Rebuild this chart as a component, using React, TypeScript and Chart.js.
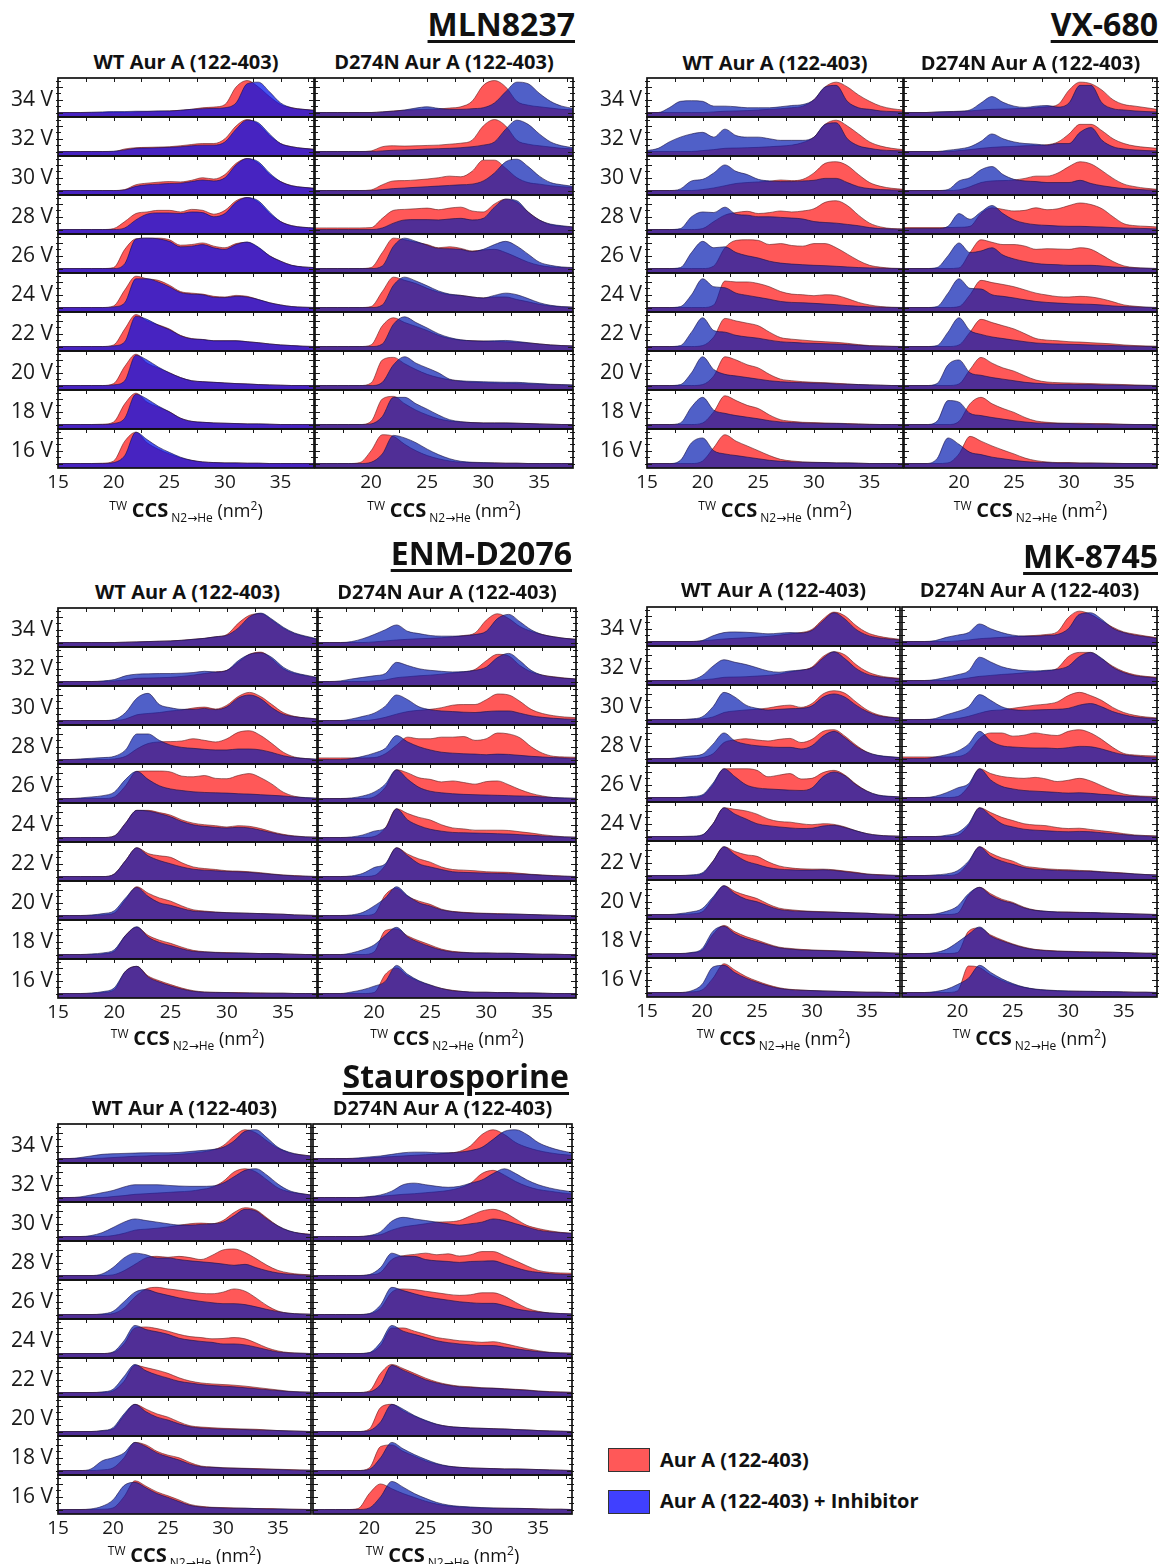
import React, { useEffect, useRef } from 'react';
import { Chart, registerables } from 'chart.js';

Chart.register(...registerables);

// ---------------- data ----------------
const CCS_NM2 = [15, 16, 17, 18, 19, 20, 21, 22, 23, 24, 25, 26, 27, 28, 29, 30, 31, 32, 33, 34, 35, 36, 37, 38];
const VOLTAGES = ['34 V', '32 V', '30 V', '28 V', '26 V', '24 V', '22 V', '20 V', '18 V', '16 V'];
const COMPOUNDS = ['MLN8237', 'VX-680', 'ENM-D2076', 'MK-8745', 'Staurosporine'];
const PANEL_TITLES = ['WT Aur A (122-403)', 'D274N Aur A (122-403)'];
const LEGEND_LABELS = ['Aur A (122-403)', 'Aur A (122-403) + Inhibitor'];
const X_TICKS_WT = [15, 20, 25, 30, 35];
const X_TICKS_D274N = [20, 25, 30, 35];

// rows: 34 V ... 16 V ; columns: CCS_NM2
const MLN_WT_RED = [
  [0,0,0,0,0, 0,0,0.2,0.3,0.4, 0.5,0.7,1,1.5,1.7, 2.5,8,10,8,5, 2.5,1.5,1,0.7],
  [0,0,0,0,0, 0,0.8,1.2,1.3,1.4, 1.5,1.8,2.2,2.5,2.5, 4,8,10,8.5,5, 2.5,1.5,1,0.7],
  [0,0,0,0,0, 0,0.3,1.8,2.3,2.6, 2.8,2.7,3.2,4,3.6, 5,8.5,10,8.5,5, 2.8,1.5,1,0.7],
  [0,0,0,0,0, 0.3,2.5,5,5.5,6, 6,5.5,6.3,6,4.8, 6,9,10,8.5,5, 2.5,1.2,0.7,0.5],
  [0,0,0,0,0, 0.3,6,9.3,9.5,9.5, 9,7.3,7.5,8,7, 6.5,7.8,8.2,6.5,4, 2.3,1,0.5,0.3],
  [0,0,0,0,0, 0.5,5.5,9.8,9,8.5, 7,5,4.5,4.2,3.5, 3.3,3.8,3.5,2.5,1.5, 0.8,0.3,0.1,0],
  [0,0,0,0,0, 0.5,5.5,10,8,6.8, 5.5,3.5,2.5,2.2,1.8, 1.8,1.8,1.5,1.2,0.8, 0.5,0.3,0.1,0],
  [0,0,0,0,0, 0.6,6,9.8,7,5.5, 4,2.5,1.5,1.2,1, 0.8,0.6,0.5,0.3,0.2, 0.1,0,0,0],
  [0,0,0,0,0.1, 0.8,6.5,9.8,7,5.5, 4,2,1,0.7,0.5, 0.4,0.3,0.2,0.2,0.1, 0,0,0,0],
  [0,0,0,0,0.1, 0.8,7,9.8,6.5,4.5, 3,1.8,1,0.5,0.3, 0.2,0.2,0.1,0.1,0, 0,0,0,0],
];
const MLN_WT_BLUE = [
  [0,0,0,0.1,0.2, 0.3,0.3,0.4,0.4,0.5, 0.5,0.7,1,1.2,1.3, 1.5,3,9,9.5,6.5, 3,1.5,1,0.7],
  [0,0,0,0,0, 0.1,0.5,1,1.1,1.2, 1.3,1.5,1.8,2,2, 3,7,9.8,9,5.5, 2.5,1.5,1,0.7],
  [0,0,0,0,0, 0,0.2,1.3,1.8,2, 2.2,2.3,2.8,3.3,3, 4,8,10,9,5.5, 2.8,1.5,1,0.7],
  [0,0,0,0,0, 0,0.5,3,4.8,5.2, 5.2,5,5.5,5.3,4, 5,8.5,10,9,5.5, 2.5,1.2,0.7,0.5],
  [0,0,0,0,0, 0,1.5,9.2,9.5,9.3, 8.5,6.8,7,7.5,6.5, 6,7.5,8.3,6.7,4, 2.3,1,0.5,0.3],
  [0,0,0,0,0, 0.2,1.5,9,9,8, 6.5,4.7,4.2,4,3.2, 3.1,3.5,3.3,2.5,1.5, 0.8,0.3,0.1,0],
  [0,0,0,0,0, 0.2,1.5,9.5,8.5,6.7, 5.3,3.4,2.4,2.2,1.8, 1.8,1.8,1.5,1.2,0.8, 0.5,0.3,0.1,0],
  [0,0,0,0,0, 0.2,1.5,9.5,8,5.8, 4,2.5,1.5,1.2,1, 0.8,0.6,0.5,0.3,0.2, 0.1,0,0,0],
  [0,0,0,0,0, 0.3,2,9.5,8,5.8, 4,2,1,0.7,0.5, 0.4,0.3,0.2,0.2,0.1, 0,0,0,0],
  [0,0,0,0,0, 0.3,2.5,9.8,7.5,5.2, 3.5,2,1,0.5,0.3, 0.2,0.2,0.1,0.1,0, 0,0,0,0],
];
const MLN_D274N_RED = [
  [0,0,0,0,0, 0,0.2,0.5,0.7,0.9, 1,1.1,1.4,1.8,3.5, 8.5,10,8,3.5,2.3, 1.8,1.4,1,0.8],
  [0,0,0,0,0, 0.2,1.5,1.8,1.7,1.8, 1.9,2,2.3,2.6,3.5, 8,10,8,3.5,2.3, 1.8,1.4,1,0.8],
  [0,0,0,0,0, 0.2,1.8,3,3.1,3.3, 3.6,4,4.5,4.3,6, 9.5,9.5,7,4,2.5, 2,1.5,1.2,1],
  [0.5,0.5,0.5,0.5,0.5, 0.6,3.5,6,6.3,6.5, 6.7,6.2,6.7,7,5.8, 5.5,8,9.5,8.5,5.5, 3,1.5,1,0.8],
  [0,0,0,0,0, 0.3,5,9.5,9,8.2, 7.5,6.5,6.8,6.3,5.5, 5.8,6,5,3.5,2, 1,0.5,0.3,0.2],
  [0,0,0,0,0, 0.3,5,9.5,8.5,7.5, 6,4.8,4,3.8,3.3, 3,3.3,3.3,2.5,1.8, 1,0.5,0.2,0.1],
  [0,0,0,0,0, 0.5,6.5,9,7.5,6.3, 5,3.5,2.5,2,1.8, 1.7,1.6,1.5,1.3,1.1, 0.8,0.5,0.3,0.2],
  [0,0,0,0,0, 0.8,8,8.8,6.8,5, 3.5,2.5,1.8,1.3,1, 0.9,0.8,0.7,0.6,0.5, 0.4,0.3,0.2,0.1],
  [0,0,0,0,0, 1,8,8.8,6.5,4.5, 3,1.8,1.1,0.8,0.6, 0.5,0.5,0.5,0.4,0.3, 0.2,0.1,0,0],
  [0,0,0,0,0.3, 4,9,8.5,6,4, 2.5,1.5,0.8,0.4,0.3, 0.2,0.2,0.1,0.1,0, 0,0,0,0],
];
const MLN_D274N_BLUE = [
  [0,0,0,0,0, 0,0.2,0.4,0.8,1.4, 1.8,1.3,1,1,1.2, 1.5,3,6.5,9.5,9, 6,3.5,2,1.3],
  [0,0,0,0,0, 0,0.2,0.4,0.5,0.6, 0.8,0.9,1,1.2,1.5, 2,3,7,9.8,8.5, 5.5,3,1.8,1.2],
  [0,0,0,0,0, 0,0.3,0.6,0.8,1, 1.2,1.4,1.6,1.8,2, 3,5.5,9,9.8,7.5, 4.5,2.5,1.8,1.3],
  [0,0,0,0,0, 0,0.5,2,3,3.1, 3.1,3,3.3,3.5,3, 3.5,7,9.5,9,5.5, 3,1.7,1.2,0.8],
  [0,0,0,0,0, 0,0.8,7,9.5,8.5, 7.3,6.3,6.2,6,5.3, 6,7.5,8.5,7,4.5, 2,1,0.5,0.3],
  [0,0,0,0,0, 0,0.8,7,9.5,8.3, 6.8,5.2,4.2,3.8,3.3, 3,3.8,4.5,4,2.8, 1.5,0.7,0.3,0.1],
  [0,0,0,0,0, 0,0.8,7,9.3,7.5, 5.8,4,2.8,2.1,1.8, 1.7,1.8,1.9,1.6,1.2, 0.8,0.5,0.3,0.2],
  [0,0,0,0,0, 0,1,6.5,9,7, 5.5,4,2,1.5,1.3, 1.2,1.1,1,1,0.8, 0.6,0.4,0.3,0.2],
  [0,0,0,0,0, 0.2,2.5,8.5,8.5,6.5, 4.8,3,1.5,0.9,0.6, 0.5,0.5,0.5,0.4,0.3, 0.2,0.1,0,0],
  [0,0,0,0,0, 0.4,3,8.8,8,6.5, 4.5,2.8,1.5,0.7,0.4, 0.3,0.2,0.1,0.1,0, 0,0,0,0],
];

const VX_WT_RED = [
  [0,0,0,0,0, 0,0.2,0.4,0.5,0.6, 0.8,1,1.2,1.5,2, 4,8,9.5,8,5.5, 3.5,2,1.2,0.8],
  [0,0,0,0,0, 0.3,0.6,1,1.1,1.2, 1.3,1.5,1.7,2,2.8, 4.5,8.5,9.8,8,5.5, 3,1.7,1,0.6],
  [0,0,0,0,0, 0.3,0.8,1.5,2.2,2.5, 2.7,2.9,3.3,3.1,3.5, 5.5,8.5,9,7.8,5, 2.5,1.3,0.7,0.4],
  [0,0,0,0,0, 0.3,2.5,4.5,5.3,5.7, 5,5.3,5.8,5.5,5.8, 6.5,8.5,9,7.5,4.5, 2,0.8,0.3,0.2],
  [0,0,0,0,0, 0,0.8,6.5,8.8,9, 8.8,7.5,7.8,7.2,7, 7.8,7.8,6.5,4.5,2.5, 1,0.4,0.1,0],
  [0,0,0,0,0, 0,0.8,8.3,8,8, 7.5,6.5,5,4.2,4, 3.7,4,3.8,2.8,1.6, 0.8,0.3,0.1,0],
  [0,0,0,0,0, 0.3,3,8.8,8,7.3, 6.5,4.5,2.8,2.3,2, 1.7,1.5,1.3,1,0.6, 0.3,0.2,0.1,0],
  [0,0,0,0,0, 0.3,3,9,8,6.5, 5.5,3.5,2,1.5,1.2, 1,0.9,0.7,0.5,0.3, 0.2,0.1,0,0],
  [0,0,0,0,0, 0.5,4,9,7.5,6, 5,3,1.5,1,0.7, 0.6,0.5,0.4,0.3,0.2, 0.1,0,0,0],
  [0,0,0,0,0, 0.8,5,9,7,5.5, 4,2.5,1.3,0.8,0.5, 0.4,0.3,0.2,0.2,0.1, 0,0,0,0],
];
const VX_WT_BLUE = [
  [0,0,1.5,3.5,3.7, 3.5,2,2,1.8,1.5, 1.5,1.5,1.8,2.2,2.5, 4,8,8.5,3.5,1.5, 1,0.5,0.3,0.2],
  [0.3,1,3,4.5,5.5, 6,4.5,7,5,4.5, 4.5,4,3.5,3.5,3.5, 4.5,8.5,9,4,1.8, 1,0.5,0.3,0.2],
  [0,0,0,0.5,3, 3.5,5.5,8,6,5, 3.5,3,2.8,2.8,3, 3.2,3.8,3.8,2.5,1.2, 0.6,0.3,0.2,0.1],
  [0,0,0,0.3,4, 5.5,5.3,7,4.8,4.5, 4,4,3.8,3.6,3.3, 2.5,2.2,2,1.6,1.2, 0.6,0.3,0.2,0.1],
  [0,0,0,0.3,5, 8.5,6.5,6.8,5,4, 3.3,2.3,1.7,1.4,1.2, 1,0.9,0.7,0.5,0.3, 0.2,0.1,0,0],
  [0,0,0,0.3,4, 9,6.5,6.2,4.5,3.8, 3.2,2.6,1.9,1.6,1.5, 1.3,1.1,0.9,0.6,0.4, 0.2,0.1,0,0],
  [0,0,0,0.3,4.5, 9,5,4.5,3.5,3, 2.6,2,1.5,1.3,1.1, 1,0.9,0.8,0.6,0.4, 0.2,0.1,0,0],
  [0,0,0,0.3,4, 9,5,3.5,3,2.5, 2,1.5,1.2,1,0.9, 0.8,0.7,0.5,0.4,0.3, 0.2,0.1,0,0],
  [0,0,0,0.5,5.5, 8.5,4.5,3.5,2.8,2.3, 1.8,1.2,0.8,0.6,0.5, 0.4,0.3,0.3,0.2,0.1, 0,0,0,0],
  [0,0,0,1,6.5, 8,4,3,2.5,2, 1.5,1,0.7,0.5,0.4, 0.3,0.3,0.2,0.2,0.1, 0,0,0,0],
];
const VX_D274N_RED = [
  [0,0,0,0.1,0.2, 0.3,0.5,0.8,1,1.1, 1.2,1.3,1.5,1.8,2.5, 7,9.5,9,7,4, 2.5,2,1.5,1],
  [0,0,0,0,0, 0.3,0.6,1,1.3,1.5, 1.6,1.8,1.9,2.1,3, 5.5,8.5,8.5,6.5,4, 2.5,1.7,1.3,1],
  [0,0,0,0,0, 0.2,1.2,2.5,3,3.1, 3.3,3.8,4.5,4.5,5.5, 7.5,9,8.3,6.2,3.8, 2,1.2,0.7,0.4],
  [0.6,0.6,0.6,0.6,0.6, 0.7,1,5,6.8,6.3, 5.8,6,6.8,6.2,6.5, 7.5,8.3,7.8,6.5,4, 1.8,1.2,1,0.8],
  [0,0,0,0,0, 0.2,5,9,8.2,7.5, 7.5,7,6,6.2,6.1, 6,6.5,6,4.2,2.2, 0.8,0.3,0.1,0],
  [0,0,0,0,0, 0.3,4,8.5,7.8,7.2, 6.5,5.5,4.5,3.9,3.4, 3.3,3.5,3.3,2.7,1.8, 0.8,0.4,0.1,0],
  [0,0,0,0,0, 0.5,4.5,8.5,7.5,6.5, 5.5,4,2.5,2,1.8, 1.5,1.4,1.2,1,0.8, 0.5,0.3,0.2,0.1],
  [0,0,0,0,0, 0.5,5,8.8,7,5.5, 4.5,3,1.7,1.1,0.9, 0.8,0.7,0.6,0.5,0.4, 0.3,0.2,0.1,0],
  [0,0,0,0,0, 1,6.5,8.5,6.5,5, 3.8,2.2,1.1,0.7,0.5, 0.4,0.4,0.3,0.3,0.2, 0.1,0,0,0],
  [0,0,0,0,0.2, 3,8.5,7,5.5,4.2, 3,1.7,0.9,0.5,0.3, 0.3,0.2,0.2,0.1,0.1, 0,0,0,0],
];
const VX_D274N_BLUE = [
  [0,0,0,0.2,0.3, 0.4,0.8,3,5,3.2, 2,1.6,2,2.2,1.7, 3,8.5,8.5,3,1.2, 0.8,0.5,0.3,0.2],
  [0,0,0,0,0.4, 0.8,1.5,3.2,5.5,4, 3,2.5,2.3,2,2.5, 2.5,6,7.5,3.5,1.5, 0.8,0.5,0.3,0.2],
  [0,0,0,0,0.3, 3,4,6.5,7.5,5, 3.5,3,2.8,2.5,2.5, 2.5,3.2,2.2,1.5,1, 0.6,0.4,0.2,0.1],
  [0.3,0.3,0.3,0.3,1, 5,3.2,5.5,7.5,5, 3,2,1.5,1.3,1.1, 1,1,0.9,0.8,0.6, 0.5,0.4,0.3,0.2],
  [0,0,0,0.3,4, 8,5,5.5,6.5,4.2, 3,2.2,1.6,1.3,1.2, 1,1,1,0.8,0.5, 0.3,0.2,0.1,0],
  [0,0,0,0.3,4.5, 9,6,5.8,4,3.5, 3,2.4,1.9,1.6,1.4, 1.2,1.1,1,0.8,0.5, 0.3,0.2,0.1,0],
  [0,0,0,0.3,4.5, 9,5,3.8,3,2.5, 2,1.5,1.1,0.9,0.8, 0.7,0.6,0.5,0.4,0.3, 0.2,0.1,0,0],
  [0,0,0,0.6,6.5, 8,4,3.2,2.5,2, 1.5,1,0.7,0.5,0.4, 0.4,0.3,0.3,0.2,0.2, 0.1,0,0,0],
  [0,0,0,1,7.5, 7,3.5,2.8,2.2,1.7, 1.2,0.8,0.5,0.4,0.3, 0.3,0.2,0.2,0.1,0.1, 0,0,0,0],
  [0,0,0,1.5,8, 6,3.5,2.8,2,1.5, 1,0.6,0.4,0.3,0.2, 0.2,0.1,0.1,0.1,0, 0,0,0,0],
];

const ENM_WT_RED = [
  [0,0,0,0,0, 0,0.1,0.2,0.3,0.4, 0.5,0.7,1,1.3,1.8, 2.5,6,8.5,9,7, 4.5,2.8,1.8,1],
  [0,0,0,0,0, 0.2,0.5,1,1.1,1.2, 1.3,1.6,2,2.5,3, 3.5,6,8.5,9.2,7, 4,2.5,1.8,1.2],
  [0,0,0,0,0, 0,0.5,1.8,2.2,2.5, 3,3.3,3.9,4.2,3.6, 4.8,7.5,8.8,7.5,5, 2.5,1.3,0.8,0.5],
  [0,0,0,0,0, 0.2,1,3.3,5,5.5, 5.6,5.8,6.5,6,5.5, 6.5,8.5,9,7.5,5, 2.3,0.8,0.3,0.1],
  [0,0,0,0,0, 0.5,4,8.5,8.6,8.6, 8.3,7,6.8,7.2,6.3, 6.2,7.2,7.8,6.5,4.5, 2,0.7,0.2,0.1],
  [0,0,0,0,0, 0.5,4.5,8.5,8.5,7.8, 7,5.5,4.5,4,3.7, 3.3,3.7,3.5,2.8,1.8, 1,0.5,0.2,0.1],
  [0,0,0,0,0, 0.8,5,9,7.2,6.5, 6,4.3,3,2.5,2.2, 1.8,1.7,1.5,1.2,0.8, 0.5,0.3,0.1,0],
  [0,0,0,0,0.2, 0.8,5,9,7,5.5, 4.5,3,1.8,1.4,1.1, 0.9,0.8,0.7,0.6,0.5, 0.4,0.2,0.1,0],
  [0,0,0,0,0.2, 1,6,8.5,6,4.5, 3.5,2.3,1.3,0.9,0.7, 0.6,0.5,0.4,0.3,0.3, 0.2,0.1,0,0],
  [0,0,0,0,0.3, 1.2,7,8.5,5.5,4, 2.8,1.7,0.9,0.5,0.4, 0.3,0.3,0.2,0.2,0.1, 0.1,0,0,0],
];
const ENM_WT_BLUE = [
  [0,0,0,0,0, 0,0.1,0.2,0.3,0.4, 0.5,0.7,1,1.3,1.8, 2.3,4.5,8,9.2,7.3, 4.8,3,2,1.2],
  [0,0,0,0,0.2, 0.6,1.8,2.3,2.4,2.5, 2.5,2.6,2.8,3.2,3, 3.5,6.5,8.5,9,7.5, 4.5,2.8,2,1.3],
  [0,0,0,0,0, 0.3,2.5,7,8.5,5, 4,3.5,3.5,3.8,3.4, 4.3,7,8,6.8,4, 2,1.2,0.8,0.5],
  [0,0,0.2,0.4,0.6, 1,3,8,8,6, 4.5,3.8,3.5,3.2,3, 3,3.3,3.3,3,2.2, 1.2,0.6,0.3,0.1],
  [0,0,0.2,0.5,0.9, 2,6,8.5,6,4, 3,2.5,2.1,1.9,1.8, 1.7,1.5,1.4,1.2,1, 0.8,0.5,0.3,0.1],
  [0,0,0,0,0, 0.5,4.5,8.5,8.3,7.5, 6.5,5,4,3.5,3.2, 3,3.2,3,2.3,1.5, 0.8,0.4,0.2,0.1],
  [0,0,0,0,0, 0.8,5,9,6.5,5, 4,3,2.3,2,1.8, 1.6,1.5,1.3,1,0.7, 0.4,0.2,0.1,0],
  [0,0,0,0.2,0.6, 1.5,5.5,8.8,6,4, 3.2,2.2,1.4,1.2,1, 0.9,0.8,0.7,0.6,0.5, 0.4,0.2,0.1,0],
  [0,0,0,0.2,0.5, 1.5,6,8.7,5.5,3.8, 2.8,1.8,1,0.8,0.6, 0.5,0.5,0.4,0.3,0.3, 0.2,0.1,0,0],
  [0,0,0,0.2,0.6, 1.8,7,8.5,5.2,3.6, 2.4,1.4,0.7,0.4,0.3, 0.3,0.2,0.2,0.1,0.1, 0.1,0,0,0],
];
const ENM_D274N_RED = [
  [0,0,0,0,0, 0.2,0.5,0.8,1,1.2, 1.3,1.5,1.8,2.2,3, 7,9,7.5,5,3.5, 2.5,1.8,1.3,1],
  [0,0,0,0,0, 0.2,0.5,1.2,1.5,1.8, 2,2.3,2.7,3,3.8, 6.5,8.5,8,5,3, 2,1.5,1.1,0.8],
  [0,0,0,0,0, 0.3,1,2,2.8,3.2, 3.5,4,4.8,5,5, 6.5,8.3,8,6,3.5, 2.2,1.5,1.1,0.9],
  [0.5,0.5,0.5,0.5,0.5, 0.6,1.8,4.5,7,6.5, 6.5,7,7,7.2,6, 6.5,8.3,8,6.8,4, 2,1,0.8,0.7],
  [0,0,0,0,0, 0.5,3.5,9,8,6.5, 6,5.2,5.5,5,4.5, 5.3,5.5,4.3,2.8,1.6, 0.8,0.3,0.1,0],
  [0,0,0,0,0, 0.3,3,9,7.5,6.3, 5.5,4,3,2.7,2.3, 2.3,2.3,2.2,1.8,1.4, 0.9,0.5,0.2,0.1],
  [0,0,0,0,0, 0.3,3.5,9,7,5.5, 4.5,3,2.2,2,1.8, 1.5,1.4,1.3,1,0.7, 0.5,0.3,0.1,0],
  [0,0,0,0,0, 0.5,6.5,8.5,6,4.5, 3.5,2,1.3,1,0.8, 0.7,0.6,0.5,0.4,0.3, 0.2,0.1,0,0],
  [0,0,0,0,0, 0.8,7.5,8,5.8,4.3, 3,1.7,1,0.7,0.5, 0.5,0.4,0.4,0.3,0.2, 0.1,0.1,0,0],
  [0,0,0,0,0, 0.3,6,8,5.5,3.8, 2.6,1.6,1,0.6,0.4, 0.4,0.3,0.3,0.2,0.2, 0.1,0,0,0],
];
const ENM_D274N_BLUE = [
  [0,0,0,0.3,1.2, 2.5,4,5.5,3.5,2.8, 2.2,2,2,2.1,2.5, 3.5,7.5,8.8,6.5,4, 2.5,1.8,1.3,1],
  [0,0,0.2,0.8,1.3, 1.8,2.5,6,5,4, 3.5,3.2,3,3.1,3.5, 4.5,7.5,8.8,6.5,3.5, 2,1.4,1,0.8],
  [0,0,0,0.5,1.3, 2.3,4.5,8,6.5,4.3, 3.4,3,2.8,2.6,2.5, 2.8,3,3,2.3,1.5, 1,0.7,0.5,0.4],
  [0,0,0,0.3,1, 2,3.5,7.5,5.5,4, 3,2.3,2,1.8,1.7, 1.5,1.7,1.6,1.3,1, 0.8,0.6,0.5,0.4],
  [0,0,0,0.2,0.8, 2,4.5,9,6,3.5, 2.3,1.8,1.5,1.3,1.2, 1.1,1,0.9,0.8,0.7, 0.5,0.3,0.2,0.1],
  [0,0,0,0.2,0.8, 2,3,9,5.5,3.7, 2.6,2,1.6,1.5,1.4, 1.3,1.2,1.1,0.9,0.7, 0.5,0.3,0.2,0.1],
  [0,0,0,0.2,1, 2.8,4,9,6.5,4, 3,2.2,1.5,1.3,1.2, 1.1,1,0.9,0.8,0.6, 0.4,0.2,0.1,0],
  [0,0,0,0.2,1, 3,5.5,9,6.2,4, 3,1.8,1.2,0.9,0.7, 0.6,0.5,0.5,0.4,0.3, 0.2,0.1,0,0],
  [0,0,0,0.5,1.5, 3,6,8.5,5.5,3.8, 2.5,1.4,0.8,0.6,0.5, 0.5,0.4,0.4,0.3,0.2, 0.1,0.1,0,0],
  [0,0,0,0.5,1.2, 2.3,3.8,8.8,6,4, 2.7,1.6,0.9,0.6,0.4, 0.4,0.3,0.3,0.2,0.2, 0.1,0,0,0],
];

const MK_WT_RED = [
  [0,0,0,0,0, 0.2,0.5,0.8,1,1.2, 1.4,1.6,2,2.4,2.8, 3.8,7,9.2,8,5, 2.8,1.7,1.1,0.7],
  [0,0,0,0,0, 0.2,0.5,1,1.1,1.2, 1.4,1.6,2,2.7,3.2, 4.2,7.5,9,8,5, 2.8,1.6,1,0.7],
  [0,0,0,0,0, 0.2,0.8,2.2,2.7,3, 3.2,3.6,4.2,4.5,3.8, 5,8,9,8.2,5.5, 3,1.5,0.8,0.5],
  [0,0,0,0,0, 0.3,1.5,5,5.8,6.2, 5.8,5.5,6,6.3,5, 6,8.5,9,7,4.2, 2,0.9,0.5,0.3],
  [0,0,0,0,0, 0.5,4,9,9,9, 8.5,6.5,7,7.5,5.8, 6,7.8,8.5,7,4.2, 2,0.7,0.3,0.2],
  [0,0,0,0,0, 0.4,4,9,8.5,8, 7,5.5,4.7,4.5,4, 3.7,4,3.8,3,1.8, 0.9,0.4,0.2,0.1],
  [0,0,0,0,0, 0.5,4.5,9,7.5,6.5, 6,4.3,3,2.4,2.1, 2,2,1.8,1.4,1, 0.5,0.3,0.1,0],
  [0,0,0,0,0.2, 0.8,5,9,7.2,6, 5,3.3,2,1.5,1.2, 1,0.9,0.8,0.6,0.5, 0.4,0.2,0.1,0],
  [0,0,0,0,0.2, 1,6,8.8,6.8,5.3, 4.2,3,2,1.6,1.3, 1.1,1,0.9,0.7,0.6, 0.5,0.3,0.2,0.1],
  [0,0,0,0,0.2, 0.8,4.5,9,7,5, 3.6,2.4,1.5,1,0.8, 0.6,0.5,0.4,0.3,0.2, 0.1,0.1,0,0],
];
const MK_WT_BLUE = [
  [0,0,0,0,0, 0.3,1.8,2.8,3,2.9, 2.7,2.4,2.6,2.8,2.7, 3.5,6.5,9,7,3.8, 2,1.2,0.8,0.5],
  [0,0,0,0,0.2, 1.5,4.5,6.5,5.7,5, 4,3,2.6,3,3.3, 4,7,9,6.8,3.8, 2,1.2,0.8,0.5],
  [0,0,0,0,0.2, 0.8,4,8.5,7,4.5, 3.5,3,3.2,3.4,3.5, 4.3,7,8,7,4.5, 2.5,1.2,0.7,0.5],
  [0,0,0,0.4,0.8, 1.3,4.5,8,5.5,4.5, 4,3.7,3.5,3.5,3, 4,7,8.5,6.5,3.8, 2,1,0.6,0.3],
  [0,0,0,0,0.3, 0.8,4.5,9,6.5,4, 3,2.7,2.5,2.3,2.2, 3,6.5,8,6.8,4, 2,0.8,0.4,0.2],
  [0,0,0,0,0.1, 0.5,4,9,7,5.5, 4,3.4,3,2.7,2.5, 2.6,3.3,3.5,2.8,1.8, 0.9,0.4,0.2,0.1],
  [0,0,0,0,0.2, 0.8,4.5,9,6.5,4.5, 3.5,2.5,2,1.8,1.7, 1.7,1.8,1.6,1.2,0.8, 0.4,0.2,0.1,0],
  [0,0,0,0.3,0.8, 1.8,5.5,9,6.5,4.8, 4,2.7,1.6,1.2,1, 0.9,0.8,0.7,0.6,0.5, 0.4,0.2,0.1,0],
  [0,0,0,0,0.3, 1.5,7,8.5,6.2,4.7, 3.7,2.7,1.8,1.4,1.1, 1,0.9,0.8,0.7,0.5, 0.4,0.3,0.2,0.1],
  [0,0,0,0,0.5, 2.5,8,8.5,6.2,4.5, 3.2,2.1,1.3,0.9,0.7, 0.6,0.5,0.4,0.3,0.2, 0.1,0.1,0,0],
];
const MK_D274N_RED = [
  [0,0,0,0,0, 0.2,0.5,0.9,1.1,1.3, 1.5,1.7,1.9,2.2,3, 7.5,9.5,8.5,6.5,4.5, 3,2.3,1.7,1.2],
  [0,0,0,0,0, 0.3,0.8,1.3,1.6,1.9, 2.1,2.4,2.7,3,3.8, 7.5,8.8,8.8,6.8,4.5, 2.8,1.8,1.3,1],
  [0,0,0,0,0, 0.3,1,2,2.8,3, 3.5,4,4.5,4.8,5.5, 7.5,8.5,7.5,6,3.8, 2.2,1.3,0.8,0.5],
  [0.5,0.5,0.5,0.5,0.5, 0.6,2,6.3,8,8, 7,7.3,8,7.5,7.2, 8.5,9,8,6,3.5, 1.6,1.1,0.9,0.8],
  [0,0,0,0,0, 0.3,3.5,9,7.5,6.6, 6.2,6,6.3,5.8,5, 5.4,6,5.2,3.7,2.2, 1.1,0.6,0.4,0.3],
  [0,0,0,0,0, 0.3,3.5,9,7.5,6, 5,4,3.6,3.4,2.8, 2.5,2.6,2.2,1.8,1.4, 0.9,0.5,0.3,0.2],
  [0,0,0,0,0, 0.5,4,9,7,5.5, 4.5,3,2.5,2.1,1.9, 1.8,1.6,1.5,1.2,1, 0.8,0.5,0.3,0.2],
  [0,0,0,0,0, 0.4,6,8.5,6.5,4.8, 3.8,2.3,1.4,1,0.8, 0.8,0.7,0.6,0.5,0.4, 0.3,0.2,0.1,0],
  [0,0,0,0,0, 0.3,7,8,5.8,4.3, 3,2,1.3,1,0.8, 0.7,0.6,0.5,0.5,0.4, 0.3,0.2,0.1,0.1],
  [0,0,0,0,0, 0.5,8.3,7.8,5.5,3.8, 2.5,1.6,1,0.7,0.5, 0.4,0.4,0.3,0.3,0.2, 0.2,0.1,0.1,0],
];
const MK_D274N_BLUE = [
  [0,0,0,0.3,1.3, 2,2.8,5.5,4,2.8, 2,1.7,1.7,1.9,2.2, 4,8.5,9,7,4.2, 2.8,2,1.5,1],
  [0,0,0,0.3,1, 1.8,3,7.3,5.8,4.3, 3.5,3.1,3,3.2,3.5, 4.5,7.5,8.8,7,4.2, 2.5,1.5,1.1,0.8],
  [0,0,0,0.3,1.5, 2.5,4,7.8,6,4, 3.1,2.9,3,3.1,3.2, 3.5,4.5,5,4,2.5, 1.5,0.8,0.5,0.3],
  [0,0,0,0.5,1.2, 2.3,4.5,8.5,5.5,4, 3.6,3.4,3.3,3.3,3.1, 3.4,3.8,3.7,3,2, 1.2,0.8,0.5,0.4],
  [0,0,0,0.4,1.5, 3,4.3,9,5.5,3.5, 2.7,2.2,2,1.8,1.6, 1.4,1.5,1.3,1,0.8, 0.5,0.3,0.2,0.1],
  [0,0,0,0,0.4, 1.2,4,9,6.5,4, 3,2.3,2,1.8,1.6, 1.5,1.6,1.5,1.2,0.9, 0.6,0.3,0.2,0.1],
  [0,0,0,0.2,0.5, 1.5,4.5,9,6,4.5, 3.5,2.5,2,1.8,1.6, 1.5,1.4,1.3,1.1,0.9, 0.7,0.5,0.3,0.2],
  [0,0,0,0.2,1, 2.6,6.5,8.5,6,4.4, 3.5,2.1,1.3,1,0.8, 0.7,0.6,0.6,0.5,0.4, 0.3,0.2,0.1,0],
  [0,0,0,0.3,1.3, 3.5,6,8.3,5.5,4, 2.8,1.8,1.2,0.9,0.7, 0.6,0.5,0.5,0.4,0.4, 0.3,0.2,0.1,0.1],
  [0,0,0,0.3,1, 2.5,4.5,8.5,6.3,4.3, 2.8,1.7,1.1,0.8,0.6, 0.5,0.4,0.4,0.3,0.3, 0.2,0.1,0.1,0],
];

const STAURO_WT_RED = [
  [0,0,0,0,0.1, 0.3,0.5,0.7,0.8,1, 1.1,1.3,1.6,2,2.6, 4,7,9,8,5.5, 3.2,1.8,1.2,0.8],
  [0,0,0,0,0, 0.3,0.6,1,1.2,1.4, 1.6,1.8,2,2.5,3.2, 5,8,9,8,5.5, 3,1.8,1.2,0.8],
  [0,0,0,0,0, 0.3,1,2,2.3,2.6, 3,3.5,4,4.2,4, 5,7.5,9,8.3,5.8, 3.3,1.7,1,0.7],
  [0,0,0,0,0, 0.2,1.5,3.5,5.5,6, 5.7,6,5.6,5,6.3, 8,8.3,7.2,5.3,3.2, 1.6,0.8,0.4,0.2],
  [0,0,0,0,0, 0.3,2,5.5,8,8.5, 8,7.6,7,6.6,6.5, 7,8,7.3,5.2,2.8, 1.1,0.4,0.2,0.1],
  [0,0,0,0,0, 0.3,3,8,8.3,7.8, 7,6,5.3,5,4.6, 4.7,5,4.6,3.3,1.8, 0.8,0.3,0.1,0],
  [0,0,0,0,0, 0.5,3.5,8.5,7.8,7, 6,4.6,3.6,3,2.7, 2.5,2.3,2,1.6,1.2, 0.8,0.4,0.2,0.1],
  [0,0,0,0,0.2, 0.8,5,8.5,7,5.5, 4.5,3,1.8,1.4,1.2, 1,0.9,0.8,0.7,0.5, 0.3,0.2,0.1,0],
  [0,0,0,0,0.2, 0.8,4,8.8,8,6, 4.8,4,2.5,1.4,1.1, 0.9,0.8,0.7,0.6,0.5, 0.4,0.3,0.2,0.1],
  [0,0,0,0,0.1, 0.5,4,9,7.3,5.5, 4.3,3,1.6,1,0.7, 0.6,0.5,0.4,0.3,0.3, 0.2,0.1,0.1,0],
];
const STAURO_WT_BLUE = [
  [0,0,0.3,0.8,1.3, 1.5,1.6,1.7,1.8,1.8, 1.8,1.9,2.2,2.5,2.8, 3.5,5.5,8.5,9,6.5, 3.5,2,1.2,0.8],
  [0,0,0.2,0.8,1.5, 2.2,3.3,4,4,4, 3.8,3.6,3.5,3.5,3.6, 4.5,6.5,8.5,9,7, 4.2,2.2,1.3,0.8],
  [0,0,0,0.3,1.2, 2.8,4.5,5.5,5,4.5, 4,3.6,3.6,3.8,4, 4.5,6.5,8.5,8,5.5, 3.3,1.8,1,0.6],
  [0,0,0,0,0.5, 2.5,5.5,7,6.5,5.5, 5.5,5,4.6,4.3,4, 3.6,3.2,3.5,2.5,1.5, 0.8,0.4,0.2,0.1],
  [0,0,0,0,0.2, 1,4,7,7.8,6.8, 6,5.2,4.6,4.1,3.7, 3.4,3.4,3.1,2.4,1.6, 0.9,0.4,0.2,0.1],
  [0,0,0,0,0, 0.5,4,8.8,7.5,6.8, 6,4.8,4.2,3.8,3.5, 3,3,2.7,2,1.2, 0.5,0.2,0.1,0],
  [0,0,0,0,0.2, 1,5,8.8,6.8,5.5, 4.5,3.5,3,2.5,2.2, 2,1.8,1.5,1.2,0.9, 0.6,0.3,0.2,0.1],
  [0,0,0,0,0.3, 1.2,5.5,8.5,6.2,4.5, 3.6,2.4,1.5,1.1,0.9, 0.8,0.7,0.6,0.5,0.4, 0.3,0.2,0.1,0],
  [0,0,0,0.5,3, 4,5.5,8.8,7.5,5.5, 4.3,3.3,2,1.2,1, 0.8,0.7,0.6,0.5,0.4, 0.3,0.2,0.1,0.1],
  [0,0,0,0.2,1, 3,7.5,8.5,6.8,5, 3.8,2.5,1.3,0.8,0.6, 0.5,0.4,0.4,0.3,0.2, 0.2,0.1,0,0],
];
const STAURO_D274N_RED = [
  [0,0,0,0,0, 0.2,0.4,0.6,0.8,1, 1.2,1.4,1.7,2.2,4, 7.5,9,7.5,5,3.5, 2.5,1.8,1.3,1],
  [0,0,0,0,0, 0.2,0.4,0.7,1,1.2, 1.5,1.8,2.2,3,4.5, 7.5,8.5,7,5,3.5, 2.5,2,1.5,1.1],
  [0,0,0,0,0, 0.2,0.6,2,3,3.5, 4,4.5,4.6,5,6.5, 8,8.5,7.5,5.5,3.5, 2.5,1.8,1.3,1],
  [0,0,0,0,0, 0.2,1,5,6.2,6.6, 7,6.5,6.8,6.1,6.5, 7.5,7.5,6.2,4.6,3, 1.6,1,0.8,0.7],
  [0,0,0,0,0, 0.2,2,7,8,7.8, 7.3,6.8,6.3,6,6.2, 6.8,6.8,5.7,3.8,2, 1,0.5,0.3,0.2],
  [0,0,0,0,0, 0.2,2.5,8,8,7, 6,5,4.5,4,3.8, 3.5,3.7,3.1,2.3,1.5, 0.9,0.4,0.2,0.1],
  [0,0,0,0,0, 0.5,6,8.8,7.5,6, 4.5,3.3,2.5,2,1.8, 1.5,1.4,1.2,1,0.8, 0.5,0.3,0.2,0.1],
  [0,0,0,0,0, 0.8,7.5,8.5,6.5,4.8, 3.3,2.2,1.6,1.3,1.1, 1,0.9,0.8,0.6,0.5, 0.3,0.2,0.1,0],
  [0,0,0,0,0, 0.8,7.5,8,6,4.5, 3,2,1.3,1,0.8, 0.7,0.6,0.5,0.5,0.4, 0.3,0.2,0.1,0],
  [0,0,0,0,0.3, 5,8,6.5,5,3.8, 2.6,1.7,1.1,0.8,0.6, 0.5,0.4,0.4,0.3,0.3, 0.2,0.1,0.1,0],
];
const STAURO_D274N_BLUE = [
  [0,0,0,0,0.2, 0.5,0.8,1.3,1.8,2, 2,1.8,1.8,2,2.5, 3.5,6,8.5,9,7.5, 5,3.5,2.5,1.8],
  [0,0,0,0,0, 0.3,0.8,2,4,4.5, 4,3.5,3.2,3.5,4.5, 5.5,7.5,9,7.5,5.5, 4,3,2.3,1.8],
  [0,0,0,0,0, 0.3,1.5,4.8,6,5.5, 5,4.5,4,3.6,4, 4.5,5.5,5,4,3, 2,1.5,1.2,1],
  [0,0,0,0,0, 0.3,2.5,7,6,6, 5,4.6,4.4,4.1,4.4, 4.5,4.6,3.6,2.5,1.5, 1,0.6,0.4,0.3],
  [0,0,0,0,0, 0.3,3,8.5,7.5,6.5, 5.6,5,4.5,4,3.7, 3.5,3.5,2.8,1.8,1.2, 0.8,0.5,0.3,0.2],
  [0,0,0,0,0, 0.3,3.5,8.8,7,6, 5,4,3.4,3,2.7, 2.5,2.5,2,1.5,1, 0.6,0.3,0.2,0.1],
  [0,0,0,0,0, 0.2,2.5,8.5,7,5.5, 4,3,2.3,1.8,1.6, 1.4,1.3,1.1,0.9,0.7, 0.4,0.2,0.1,0],
  [0,0,0,0,0, 0.3,3,8.5,7,5, 3.5,2.3,1.6,1.3,1.1, 1,0.9,0.8,0.6,0.5, 0.3,0.2,0.1,0],
  [0,0,0,0,0, 0.4,4,8.8,6.8,5, 3.5,2.2,1.4,1,0.8, 0.7,0.6,0.5,0.5,0.4, 0.3,0.2,0.1,0],
  [0,0,0,0,0, 0.5,4,8.8,7,5, 3.5,2.2,1.4,1,0.8, 0.6,0.5,0.4,0.4,0.3, 0.2,0.1,0.1,0],
];

// ---------------- styles / layout ----------------
const FONT = '"Open Sans", "DejaVu Sans", sans-serif';
const ROW_H = 39;
const Y_MIN = -1.4;
const Y_MAX = 10.8;
const Y_LABEL_AT = 3.9;
const Y_FRAME_TICKS = [0, 2, 4, 6, 8, 10];
const X_FRAME_TICKS = [17.5, 20, 22.5, 25, 27.5, 30, 32.5, 35, 37.5];
const RED_FILL = 'rgb(255,88,88)';
const BLUE_FILL = 'rgba(5,28,176,0.7)';
const BLUE_FILL_VIVID = 'rgba(0,15,234,0.72)';

const BLOCKS = [
  { name: COMPOUNDS[0], titleRight: 575, titleY: 24, subY: 62, top: 78, axisY: 510,
    panels: [
      { x0: 58, x1: 314, red: MLN_WT_RED, blue: MLN_WT_BLUE, blueFill: BLUE_FILL_VIVID },
      { x0: 315, x1: 573, red: MLN_D274N_RED, blue: MLN_D274N_BLUE, blueFill: BLUE_FILL },
    ] },
  { name: COMPOUNDS[1], titleRight: 1158, titleY: 24, subY: 63, top: 78, axisY: 510,
    panels: [
      { x0: 647, x1: 903, red: VX_WT_RED, blue: VX_WT_BLUE, blueFill: BLUE_FILL },
      { x0: 904, x1: 1157, red: VX_D274N_RED, blue: VX_D274N_BLUE, blueFill: BLUE_FILL },
    ] },
  { name: COMPOUNDS[2], titleRight: 572, titleY: 553, subY: 592, top: 608, axisY: 1038,
    panels: [
      { x0: 58, x1: 317, red: ENM_WT_RED, blue: ENM_WT_BLUE, blueFill: BLUE_FILL },
      { x0: 318, x1: 576, red: ENM_D274N_RED, blue: ENM_D274N_BLUE, blueFill: BLUE_FILL },
    ] },
  { name: COMPOUNDS[3], titleRight: 1158, titleY: 556, subY: 590, top: 607, axisY: 1038,
    panels: [
      { x0: 647, x1: 900, red: MK_WT_RED, blue: MK_WT_BLUE, blueFill: BLUE_FILL },
      { x0: 902, x1: 1157, red: MK_D274N_RED, blue: MK_D274N_BLUE, blueFill: BLUE_FILL },
    ] },
  { name: COMPOUNDS[4], titleRight: 569, titleY: 1076, subY: 1108, top: 1124, axisY: 1555,
    panels: [
      { x0: 58, x1: 311, red: STAURO_WT_RED, blue: STAURO_WT_BLUE, blueFill: BLUE_FILL },
      { x0: 313, x1: 572, red: STAURO_D274N_RED, blue: STAURO_D274N_BLUE, blueFill: BLUE_FILL },
    ] },
];

const framePlugin = {
  id: 'rowFrames',
  afterDraw(chart: any) {
    const { ctx, chartArea: a, scales } = chart;
    const xs = scales.x;
    ctx.save();
    for (let i = 0; i < VOLTAGES.length; i++) {
      const s = scales['y' + i];
      ctx.strokeStyle = '#1a1a1a';
      ctx.lineWidth = 1;
      ctx.beginPath();
      Y_FRAME_TICKS.forEach((v, k) => {
        const y = Math.round(s.getPixelForValue(v)) + 0.5;
        const len = k % 2 === 0 ? 5 : 3;
        ctx.moveTo(a.left - 2, y);
        ctx.lineTo(a.left + len, y);
        ctx.moveTo(a.right + 2, y);
        ctx.lineTo(a.right - len, y);
      });
      X_FRAME_TICKS.forEach((v) => {
        const x = Math.round(xs.getPixelForValue(v)) + 0.5;
        ctx.moveTo(x, s.top);
        ctx.lineTo(x, s.top + 4);
      });
      ctx.stroke();
      ctx.lineWidth = 1.7;
      ctx.strokeStyle = '#111';
      ctx.strokeRect(a.left, s.top, a.right - a.left, s.bottom - s.top);
    }
    ctx.restore();
  },
};

type PanelProps = {
  x0: number; x1: number; top: number;
  red: number[][]; blue: number[][]; blueFill: string;
  showLabels: boolean; xTicks: number[];
};

function Panel({ x0, x1, top, red, blue, blueFill, showLabels, xTicks }: PanelProps) {
  const ref = useRef<HTMLCanvasElement | null>(null);
  const LW = showLabels ? 52 : 0;
  const PAD = 3;
  const AXH = 30;
  const width = LW + (x1 - x0) + 2 * PAD;
  const height = PAD + ROW_H * VOLTAGES.length + AXH;

  useEffect(() => {
    if (!ref.current) return;
    const scales: any = {
      x: {
        type: 'linear', position: 'bottom', min: 15, max: 38,
        afterBuildTicks: (s: any) => { s.ticks = xTicks.map((v) => ({ value: v })); },
        afterFit: (s: any) => { s.height = AXH; s.paddingLeft = 0; s.paddingRight = 0; },
        ticks: { font: { family: FONT, size: 19 }, color: '#1a1a1a', padding: 3, maxRotation: 0, autoSkip: false },
        grid: { display: false, drawTicks: false },
        border: { display: false },
      },
    };
    // stacked axes are laid out bottom-up in definition order, so define the lowest row (16 V) first
    for (let i = VOLTAGES.length - 1; i >= 0; i--) {
      const label = VOLTAGES[i];
      scales['y' + i] = {
        type: 'linear', position: 'left', stack: 'rows', stackWeight: 1, offset: false,
        min: Y_MIN, max: Y_MAX,
        afterBuildTicks: (s: any) => { s.ticks = [{ value: Y_LABEL_AT }]; },
        afterFit: (s: any) => { s.width = LW; s.paddingTop = 0; s.paddingBottom = 0; },
        ticks: { display: showLabels, callback: () => label, font: { family: FONT, size: 21 }, color: '#1a1a1a', padding: 5 },
        grid: { display: false, drawTicks: false },
        border: { display: false },
      };
    }
    const datasets: any[] = [];
    VOLTAGES.forEach((label, i) => {
      datasets.push({
        label: LEGEND_LABELS[0] + ' ' + label,
        data: CCS_NM2.map((x, k) => ({ x, y: red[i][k] })),
        xAxisID: 'x', yAxisID: 'y' + i,
        fill: 'start', backgroundColor: RED_FILL,
        borderColor: 'rgba(90,30,30,0.75)', borderWidth: 0.8,
        pointRadius: 0, cubicInterpolationMode: 'monotone', order: 2,
      });
      datasets.push({
        label: LEGEND_LABELS[1] + ' ' + label,
        data: CCS_NM2.map((x, k) => ({ x, y: blue[i][k] })),
        xAxisID: 'x', yAxisID: 'y' + i,
        fill: 'start', backgroundColor: blueFill,
        borderColor: 'rgba(25,15,60,0.75)', borderWidth: 0.8,
        pointRadius: 0, cubicInterpolationMode: 'monotone', order: 1,
      });
    });
    const chart = new Chart(ref.current, {
      type: 'line',
      data: { datasets },
      options: {
        animation: false,
        responsive: false,
        maintainAspectRatio: false,
        events: [],
        layout: { padding: { left: PAD, right: PAD, top: PAD, bottom: 0 } },
        plugins: { legend: { display: false }, tooltip: { enabled: false } },
        elements: { point: { radius: 0 } },
        scales,
      },
      plugins: [framePlugin],
    } as any);
    return () => chart.destroy();
  }, []);

  return (
    <canvas
      ref={ref}
      width={width}
      height={height}
      style={{ position: 'absolute', left: x0 - LW - PAD, top: top - PAD, width, height }}
    />
  );
}

const supStyle: React.CSSProperties = { fontSize: 12, position: 'relative', top: -7 };
const subStyle: React.CSSProperties = { fontSize: 12, position: 'relative', top: 5 };

function AxisTitle({ cx, y }: { cx: number; y: number }) {
  return (
    <div style={{ position: 'absolute', left: cx - 130, width: 260, top: y - 14, height: 28, lineHeight: '28px', textAlign: 'center', fontSize: 18, whiteSpace: 'nowrap', color: '#111' }}>
      <span style={supStyle}>TW</span>{' '}
      <span style={{ fontWeight: 700, fontSize: 20 }}>CCS</span>
      <span style={subStyle}> N2→He</span>{' '}
      (nm<span style={supStyle}>2</span>)
    </div>
  );
}

export default function App() {
  return (
    <div style={{ position: 'absolute', left: 0, top: 0, width: 1160, height: 1564, background: '#fff', fontFamily: FONT, color: '#111', overflow: 'hidden' }}>
      {BLOCKS.map((b, bi) => (
        <React.Fragment key={bi}>
          <div style={{ position: 'absolute', right: 1160 - b.titleRight, top: b.titleY - 20, fontSize: 32, fontWeight: 700, lineHeight: '40px', textDecoration: 'underline', textDecorationThickness: '2.5px', textUnderlineOffset: '4px', whiteSpace: 'nowrap' }}>
            {b.name}
          </div>
          {b.panels.map((p, pi) => (
            <React.Fragment key={pi}>
              <div style={{ position: 'absolute', left: p.x0 - 20, width: p.x1 - p.x0 + 40, top: b.subY - 13, lineHeight: '26px', textAlign: 'center', fontSize: 20, fontWeight: 700, whiteSpace: 'nowrap' }}>
                {PANEL_TITLES[pi]}
              </div>
              <Panel
                x0={p.x0} x1={p.x1} top={b.top}
                red={p.red} blue={p.blue} blueFill={p.blueFill}
                showLabels={pi === 0}
                xTicks={pi === 0 ? X_TICKS_WT : X_TICKS_D274N}
              />
              <AxisTitle cx={(p.x0 + p.x1) / 2} y={b.axisY} />
            </React.Fragment>
          ))}
        </React.Fragment>
      ))}
      <div style={{ position: 'absolute', left: 608, top: 1448, width: 42, height: 24, background: RED_FILL, border: '1.5px solid #333', boxSizing: 'border-box' }} />
      <div style={{ position: 'absolute', left: 660, top: 1447, lineHeight: '26px', fontSize: 20, fontWeight: 700, whiteSpace: 'nowrap' }}>{LEGEND_LABELS[0]}</div>
      <div style={{ position: 'absolute', left: 608, top: 1490, width: 42, height: 24, background: 'rgb(64,64,255)', border: '1.5px solid #333', boxSizing: 'border-box' }} />
      <div style={{ position: 'absolute', left: 660, top: 1488, lineHeight: '26px', fontSize: 20, fontWeight: 700, whiteSpace: 'nowrap' }}>{LEGEND_LABELS[1]}</div>
    </div>
  );
}
